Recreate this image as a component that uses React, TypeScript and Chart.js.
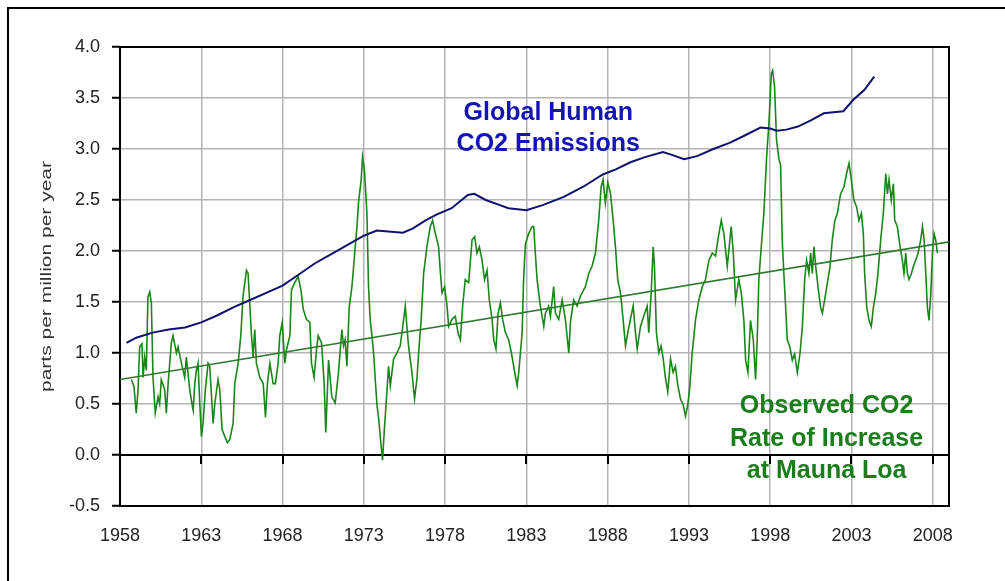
import React, { useEffect, useRef } from "react";
import { Chart, registerables } from "chart.js";

Chart.register(...registerables);

const xTickValues = [1958, 1963, 1968, 1973, 1978, 1983, 1988, 1993, 1998, 2003, 2008];

const emissionYears = [
  1958.4, 1959, 1960, 1961, 1962, 1963, 1964, 1965, 1966, 1967, 1968, 1969, 1970, 1971, 1972, 1973,
  1973.8, 1974.5, 1975.4, 1976, 1976.8, 1977.5, 1978.4, 1979.4, 1979.8, 1980.5, 1981.2, 1981.9,
  1983.0, 1984, 1985.3, 1986.5, 1987.7, 1988.5, 1989.4, 1990.3, 1991.4, 1992, 1992.7, 1993.5,
  1994.5, 1995.5, 1996.4, 1997.4, 1998, 1998.4, 1999, 1999.7, 2000.5, 2001.3, 2002.5, 2003.1,
  2003.8, 2004.4,
];
const emissionRates = [
  1.10, 1.15, 1.20, 1.23, 1.25, 1.30, 1.37, 1.45, 1.52, 1.59, 1.66, 1.77, 1.88, 1.97, 2.06, 2.15,
  2.20, 2.19, 2.18, 2.22, 2.30, 2.36, 2.42, 2.55, 2.56, 2.50, 2.46, 2.42,
  2.40, 2.45, 2.53, 2.63, 2.75, 2.80, 2.87, 2.92, 2.97, 2.94, 2.90, 2.93,
  3.00, 3.06, 3.13, 3.21, 3.20, 3.18, 3.19, 3.22, 3.28, 3.35, 3.37, 3.48,
  3.58, 3.71,
];

const observedYears = [
  1958.70, 1958.86, 1959.00, 1959.11, 1959.21, 1959.35, 1959.42, 1959.52, 1959.62, 1959.72, 1959.83, 1959.93,
  1960.03, 1960.17, 1960.34, 1960.44, 1960.54, 1960.75, 1960.85, 1960.96,
  1961.16, 1961.26, 1961.47, 1961.57, 1961.78, 1961.98,
  1962.08, 1962.29, 1962.43, 1962.50, 1962.60, 1962.70, 1962.80, 1962.91,
  1963.01, 1963.11, 1963.25, 1963.42, 1963.52, 1963.73, 1963.83,
  1964.03, 1964.14, 1964.28, 1964.45, 1964.61, 1964.75, 1964.96,
  1965.06, 1965.27, 1965.43, 1965.57, 1965.78, 1965.88, 1965.99,
  1966.09, 1966.19, 1966.29, 1966.39, 1966.60, 1966.81, 1966.95,
  1967.07, 1967.22, 1967.42, 1967.56, 1967.73, 1967.83, 1967.98,
  1968.14, 1968.24, 1968.45, 1968.55, 1968.75, 1968.96,
  1969.13, 1969.27, 1969.47, 1969.68, 1969.78, 1969.94,
  1970.09, 1970.19, 1970.40, 1970.56, 1970.66, 1970.83,
  1971.03, 1971.24, 1971.44, 1971.65, 1971.75, 1971.85, 1971.96,
  1972.10, 1972.27, 1972.47, 1972.58, 1972.67, 1972.84, 1972.92,
  1973.04, 1973.19, 1973.29, 1973.39, 1973.50, 1973.60, 1973.70, 1973.81, 1973.91,
  1974.07, 1974.15, 1974.28, 1974.42, 1974.52, 1974.63, 1974.83,
  1975.04, 1975.24, 1975.45, 1975.55, 1975.65, 1975.75, 1975.96,
  1976.12, 1976.27, 1976.37, 1976.53, 1976.68, 1976.88,
  1977.09, 1977.23, 1977.40, 1977.60, 1977.70, 1977.81, 1977.97,
  1978.12, 1978.22, 1978.42, 1978.63, 1978.79, 1978.94,
  1979.08, 1979.24, 1979.45, 1979.66, 1979.82, 1979.96,
  1980.11, 1980.27, 1980.43, 1980.58, 1980.72, 1980.89, 1980.99,
  1981.13, 1981.26, 1981.40, 1981.54, 1981.71, 1981.91,
  1982.08, 1982.22, 1982.43, 1982.53, 1982.74, 1982.83, 1982.94,
  1983.14, 1983.35, 1983.45, 1983.55, 1983.66, 1983.86,
  1984.07, 1984.17, 1984.37, 1984.48, 1984.68, 1984.79, 1984.99,
  1985.20, 1985.40, 1985.61, 1985.71, 1985.91,
  1986.12, 1986.33, 1986.63, 1986.84,
  1987.04, 1987.25, 1987.45, 1987.60, 1987.72, 1987.86,
  1988.01, 1988.17, 1988.34, 1988.48, 1988.62, 1988.79, 1988.95,
  1989.10, 1989.24, 1989.40, 1989.57, 1989.71, 1989.82,
  1990.02, 1990.22, 1990.43, 1990.53, 1990.68, 1990.80, 1990.88,
  1991.00, 1991.15, 1991.29, 1991.42, 1991.56, 1991.70, 1991.87,
  1992.03, 1992.17, 1992.32, 1992.48, 1992.65, 1992.79, 1992.93,
  1993.06, 1993.20, 1993.41, 1993.61, 1993.82,
  1994.02, 1994.23, 1994.44, 1994.64, 1994.78, 1994.99,
  1995.15, 1995.36, 1995.52, 1995.60, 1995.73, 1995.87,
  1996.07, 1996.22, 1996.38, 1996.49, 1996.63, 1996.79, 1996.96,
  1997.10, 1997.20, 1997.30, 1997.45, 1997.61, 1997.78, 1997.92,
  1998.07, 1998.15, 1998.27, 1998.39, 1998.54, 1998.64, 1998.74, 1998.84, 1998.95,
  1999.05, 1999.21, 1999.36, 1999.50, 1999.67, 1999.83, 1999.98,
  2000.12, 2000.24, 2000.38, 2000.49, 2000.59, 2000.69, 2000.80, 2000.94,
  2001.10, 2001.21, 2001.35, 2001.51, 2001.68, 2001.82, 2001.98,
  2002.13, 2002.33, 2002.54, 2002.70, 2002.85, 2002.99,
  2003.15, 2003.32, 2003.46, 2003.61, 2003.73, 2003.81, 2003.94,
  2004.08, 2004.22, 2004.35, 2004.49, 2004.63, 2004.80, 2004.96,
  2005.11, 2005.21, 2005.31, 2005.45, 2005.58, 2005.66, 2005.82, 2005.99,
  2006.13, 2006.23, 2006.34, 2006.44, 2006.54, 2006.69, 2006.81, 2006.95,
  2007.10, 2007.26, 2007.37, 2007.47, 2007.57, 2007.67, 2007.77, 2007.88, 2007.98,
  2008.08, 2008.18, 2008.29,
];
const observedRates = [
  0.74, 0.67, 0.41, 0.64, 1.06, 1.09, 0.76, 0.96, 0.83, 1.55, 1.60, 1.49,
  0.76, 0.41, 0.57, 0.50, 0.74, 0.64, 0.41, 0.70,
  1.10, 1.17, 1.00, 1.06, 0.90, 0.76,
  0.96, 0.64, 0.50, 0.44, 0.70, 0.83, 0.90, 0.50,
  0.18, 0.31, 0.64, 0.90, 0.87, 0.31, 0.50,
  0.74, 0.64, 0.25, 0.18, 0.12, 0.15, 0.31,
  0.70, 0.90, 1.17, 1.56, 1.81, 1.78, 1.46,
  1.17, 0.96, 1.23, 0.90, 0.76, 0.70, 0.37,
  0.70, 0.90, 0.70, 0.70, 0.90, 1.17, 1.30,
  0.90, 1.03, 1.17, 1.62, 1.69, 1.75,
  1.62, 1.43, 1.33, 1.30, 0.90, 0.76,
  1.03, 1.17, 1.10, 0.70, 0.22, 0.93,
  0.57, 0.51, 0.81, 1.23, 1.07, 1.13, 0.87,
  1.45, 1.65, 2.04, 2.24, 2.47, 2.70, 2.92,
  2.79, 2.37, 1.65, 1.33, 1.17, 1.00, 0.75, 0.49, 0.36,
  0.08, -0.05, 0.29, 0.62, 0.87, 0.68, 0.94,
  1.00, 1.07, 1.33, 1.46, 1.26, 1.07, 0.81,
  0.55, 0.75, 1.00, 1.33, 1.78, 2.04,
  2.24, 2.30, 2.17, 2.04, 1.81, 1.59, 1.65,
  1.46, 1.26, 1.33, 1.36, 1.20, 1.13,
  1.46, 1.72, 1.69, 2.11, 2.14, 1.98,
  2.04, 1.91, 1.72, 1.81, 1.52, 1.33, 1.13,
  1.04, 1.39, 1.49, 1.33, 1.20, 1.13,
  1.00, 0.87, 0.68, 0.81, 1.20, 1.72, 2.07,
  2.17, 2.24, 2.24, 1.98, 1.72, 1.46,
  1.26, 1.39, 1.46, 1.36, 1.65, 1.39, 1.33,
  1.52, 1.33, 1.00, 1.30, 1.52,
  1.46, 1.56, 1.65, 1.78,
  1.85, 1.98, 2.30, 2.63, 2.70, 2.47,
  2.67, 2.57, 2.30, 2.04, 1.72, 1.59, 1.33,
  1.07, 1.20, 1.33, 1.46, 1.20, 1.04,
  1.26, 1.36, 1.46, 1.20, 1.59, 2.04, 1.85,
  1.20, 1.00, 1.07, 0.94, 0.75, 0.62, 0.94,
  0.81, 0.87, 0.68, 0.55, 0.49, 0.38, 0.49,
  0.68, 1.00, 1.33, 1.52, 1.65,
  1.72, 1.91, 1.98, 1.95, 2.11, 2.30,
  2.17, 1.85, 2.11, 2.24, 1.98, 1.52,
  1.72, 1.59, 1.32, 0.93, 0.81, 1.32, 1.13,
  0.74, 1.13, 1.72, 2.04, 2.37, 2.92, 3.25,
  3.74, 3.77, 3.61, 3.09, 2.90, 2.84, 2.11, 1.78, 1.45,
  1.13, 1.06, 0.93, 0.99, 0.81, 0.99, 1.26,
  1.72, 1.91, 1.78, 1.98, 1.78, 2.04, 1.85, 1.65,
  1.45, 1.39, 1.52, 1.68, 1.85, 2.11, 2.30,
  2.37, 2.56, 2.63, 2.76, 2.86, 2.70,
  2.50, 2.43, 2.30, 2.37, 2.17, 1.78, 1.45,
  1.32, 1.26, 1.45, 1.58, 1.78, 2.11, 2.37,
  2.76, 2.56, 2.70, 2.50, 2.66, 2.30, 2.24, 2.04,
  1.91, 1.78, 1.98, 1.78, 1.72, 1.78, 1.85, 1.91,
  1.98, 2.11, 2.24, 2.11, 1.78, 1.45, 1.32, 1.58, 1.98,
  2.17, 2.11, 1.98,
];

const trendYears = [1958, 2009];
const trendRates = [0.74, 2.09];

const yAxisTitle = "parts per million per year";
const emissionsLabel = ["Global Human", "CO2 Emissions"];
const observedLabel = ["Observed CO2", "Rate of Increase", "at Mauna Loa"];

const FONT = '"Liberation Sans", Arial, Helvetica, sans-serif';

const toPoints = (xs: number[], ys: number[]) => xs.map((x, i) => ({ x, y: ys[i] }));

const overlayPlugin = {
  id: "overlay",
  beforeDatasetsDraw(chart: any) {
    const { ctx, chartArea: a, scales } = chart;
    const x = scales.x;
    const y = scales.y;
    ctx.save();
    ctx.strokeStyle = "#000";
    ctx.lineWidth = 2;
    const y0 = y.getPixelForValue(0);
    ctx.beginPath();
    ctx.moveTo(a.left, y0);
    ctx.lineTo(a.right, y0);
    xTickValues.forEach((v) => {
      const px = Math.round(x.getPixelForValue(v));
      ctx.moveTo(px, y0);
      ctx.lineTo(px, y0 + 9);
    });
    ctx.stroke();
    ctx.strokeRect(a.left, a.top, a.right - a.left, a.bottom - a.top);
    ctx.restore();
  },
  afterDatasetsDraw(chart: any) {
    const { ctx, chartArea: a, scales } = chart;
    const x = scales.x;
    const y = scales.y;
    ctx.save();
    // y axis title (stretched along its length like the original)
    ctx.translate(47, (a.top + a.bottom) / 2);
    ctx.rotate(-Math.PI / 2);
    ctx.scale(1.4, 1);
    ctx.font = `15px ${FONT}`;
    ctx.fillStyle = "#333";
    ctx.textAlign = "center";
    ctx.textBaseline = "middle";
    ctx.fillText(yAxisTitle, 0, 0);
    ctx.restore();

    ctx.save();
    ctx.textAlign = "center";
    ctx.textBaseline = "alphabetic";
    ctx.font = `bold 25px ${FONT}`;
    ctx.fillStyle = "#1414b4";
    let bx = x.getPixelForValue(1984.35);
    let by = y.getPixelForValue(3.28);
    emissionsLabel.forEach((t, i) => ctx.fillText(t, bx, by + i * 31));

    ctx.font = `bold 25px ${FONT}`;
    ctx.fillStyle = "#1b7d1b";
    bx = x.getPixelForValue(2001.47);
    by = y.getPixelForValue(0.41);
    observedLabel.forEach((t, i) => ctx.fillText(t, bx, by + i * 32.5));
    ctx.restore();
  },
};

export default function App() {
  const canvasRef = useRef<HTMLCanvasElement | null>(null);

  useEffect(() => {
    if (!canvasRef.current) return;
    const chart = new Chart(canvasRef.current, {
      type: "line",
      data: {
        datasets: [
          {
            label: "Global Human CO2 Emissions",
            data: toPoints(emissionYears, emissionRates),
            borderColor: "#10106e",
            borderWidth: 2,
            pointRadius: 0,
            tension: 0,
          },
          {
            label: "Trend",
            data: toPoints(trendYears, trendRates),
            borderColor: "#2f7a2f",
            borderWidth: 1.6,
            pointRadius: 0,
          },
          {
            label: "Observed CO2 Rate of Increase at Mauna Loa",
            data: toPoints(observedYears, observedRates),
            borderColor: "#1a861a",
            borderWidth: 1.6,
            pointRadius: 0,
            tension: 0,
          },
        ],
      },
      options: {
        animation: false,
        responsive: false,
        maintainAspectRatio: false,
        layout: { padding: { left: 0, top: 47, right: 56, bottom: 15 } },
        plugins: {
          legend: { display: false },
          tooltip: { enabled: false },
          title: { display: false },
        },
        scales: {
          x: {
            type: "linear",
            min: 1958,
            max: 2009,
            afterBuildTicks: (scale: any) => {
              scale.ticks = xTickValues.map((v) => ({ value: v }));
            },
            afterFit: (scale: any) => {
              scale.height = 60;
            },
            grid: { color: "#b4b4b4", lineWidth: 1.5, drawTicks: false },
            border: { display: false },
            ticks: {
              padding: 19,
              maxRotation: 0,
              autoSkip: false,
              color: "#222",
              font: { family: FONT, size: 18 },
              callback: (v: any) => String(v),
            },
          },
          y: {
            type: "linear",
            min: -0.5,
            max: 4.0,
            afterFit: (scale: any) => {
              scale.width = 120;
            },
            grid: {
              color: "#b4b4b4",
              lineWidth: 1.5,
              drawTicks: true,
              tickLength: 8,
              tickColor: "#000",
              tickWidth: 2,
            },
            border: { display: false },
            ticks: {
              stepSize: 0.5,
              padding: 12,
              color: "#222",
              font: { family: FONT, size: 18 },
              callback: (v: any) => Number(v).toFixed(1),
            },
          },
        },
      },
      plugins: [overlayPlugin],
    });
    return () => chart.destroy();
  }, []);

  return (
    <div
      style={{
        position: "fixed",
        left: 0,
        top: 0,
        width: 1005,
        height: 581,
        overflow: "hidden",
        background: "#fff",
      }}
    >
      <div
        style={{
          position: "absolute",
          left: 7,
          top: 7,
          width: 1200,
          height: 800,
          borderLeft: "2px solid #000",
          borderTop: "2px solid #000",
        }}
      />
      <canvas
        ref={canvasRef}
        width={1005}
        height={581}
        style={{ position: "absolute", left: 0, top: 0, width: 1005, height: 581 }}
      />
    </div>
  );
}
